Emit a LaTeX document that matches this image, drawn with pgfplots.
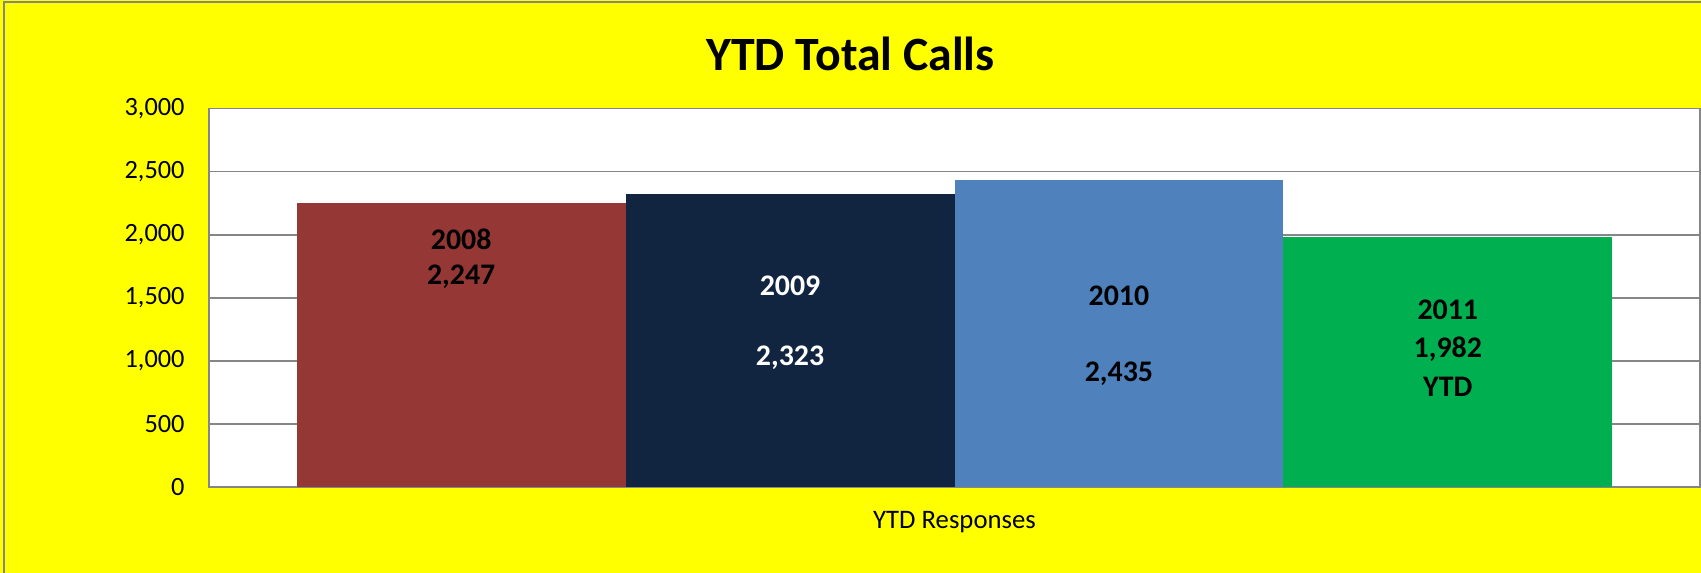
\documentclass[border=0pt]{standalone}
\usepackage{pgfplots}
\pgfplotsset{compat=1.18}
\usepackage{fontspec}
\setmainfont{Carlito}
\definecolor{bgyellow}{RGB}{255,255,0}
\definecolor{c2008}{RGB}{149,55,53}
\definecolor{c2009}{RGB}{17,37,64}
\definecolor{c2010}{RGB}{79,129,189}
\definecolor{c2011}{RGB}{0,176,80}
\definecolor{gridgray}{RGB}{134,134,134}
\tikzset{lbl/.style={font=\bfseries\fontsize{8.5}{9}\selectfont, inner sep=0pt}}

\begin{document}
\begin{tikzpicture}
\useasboundingbox (0,0) rectangle (17.01,5.73);
\fill[bgyellow] (0,0) rectangle (17.01,5.73);
\draw[gridgray, line width=0.6pt] (0.04,-0.1) -- (0.04,5.71) -- (17.1,5.71);
\begin{axis}[at={(2.09cm,0.86cm)}, anchor=south west, scale only axis,
  width=14.91cm, height=3.785cm,
  xmin=0.233, xmax=4.767, ymin=0, ymax=3000,
  axis background/.style={fill=white},
  ytick={0,500,...,3000}, xtick=\empty,
  ymajorgrids, major grid style={gridgray, line width=0.5pt},
  axis line style={gridgray, line width=0.5pt},
  tick style={draw=none},
  /pgf/number format/assume math mode=true,
  /pgf/number format/1000 sep={,},
  yticklabel style={font=\fontsize{7.5}{8}\selectfont, xshift=-0.12cm},
  xlabel={YTD Responses},
  xlabel style={font=\fontsize{7.6}{8}\selectfont, at={(axis description cs:0.5,0)}, anchor=center, yshift=-0.35cm}]
  \addplot[ybar, bar width=1, bar shift=0pt, fill=c2008, draw=none] coordinates {(1,2247)};
  \addplot[ybar, bar width=1, bar shift=0pt, fill=c2009, draw=none] coordinates {(2,2323)};
  \addplot[ybar, bar width=1, bar shift=0pt, fill=c2010, draw=none] coordinates {(3,2435)};
  \addplot[ybar, bar width=1, bar shift=0pt, fill=c2011, draw=none] coordinates {(4,1982)};
  % labels inside the bars
  \node[lbl] at (axis cs:1,1966) {2008};
  \node[lbl] at (axis cs:1,1664) {2,247};
  \node[lbl, white] at (axis cs:2,1593) {2009};
  \node[lbl, white] at (axis cs:2,1022) {2,323};
  \node[lbl] at (axis cs:3,1514) {2010};
  \node[lbl] at (axis cs:3,896) {2,435};
  \node[lbl] at (axis cs:4,1403) {2011};
  \node[lbl] at (axis cs:4,1094) {1,982};
  \node[lbl] at (axis cs:4,793) {YTD};
\end{axis}
\node[font=\bfseries\fontsize{13.6}{15}\selectfont] at (8.505,5.19) {YTD Total Calls};
\end{tikzpicture}
\end{document}
